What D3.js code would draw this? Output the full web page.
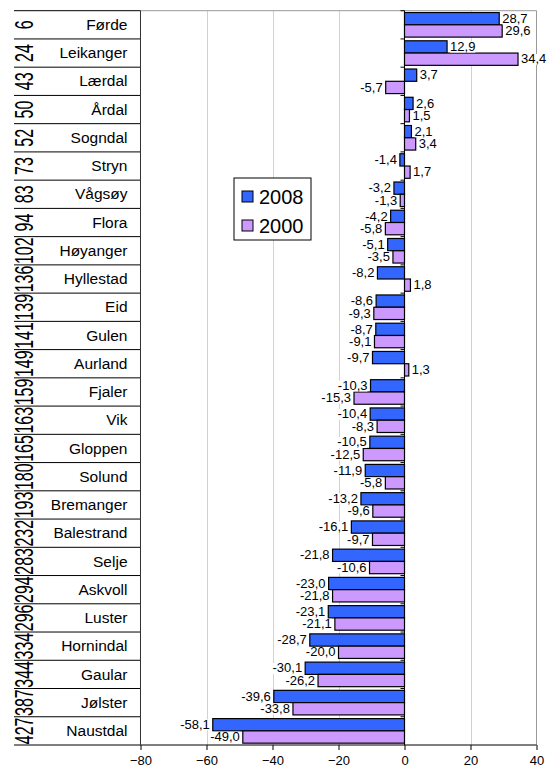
<!DOCTYPE html>
<html>
<head>
<meta charset="utf-8">
<script src="https://cdn.jsdelivr.net/npm/d3@7"></script>
<style>
  html, body { margin: 0; padding: 0; background: #fff; }
  svg { display: block; font-family: "Liberation Sans", Arial, sans-serif; }
</style>
</head>
<body>
<svg id="chart" width="552" height="771"></svg>
<script>
const municipalities = ["Førde","Leikanger","Lærdal","Årdal","Sogndal","Stryn","Vågsøy","Flora","Høyanger","Hyllestad","Eid","Gulen","Aurland","Fjaler","Vik","Gloppen","Solund","Bremanger","Balestrand","Selje","Askvoll","Luster","Hornindal","Gaular","Jølster","Naustdal"];
const ranks = [6,24,43,50,52,73,83,94,102,136,139,141,149,159,163,165,180,193,232,283,294,296,334,344,387,427];
const values2008 = [28.7,12.9,3.7,2.6,2.1,-1.4,-3.2,-4.2,-5.1,-8.2,-8.6,-8.7,-9.7,-10.3,-10.4,-10.5,-11.9,-13.2,-16.1,-21.8,-23.0,-23.1,-28.7,-30.1,-39.6,-58.1];
const values2000 = [29.6,34.4,-5.7,1.5,3.4,1.7,-1.3,-5.8,-3.5,1.8,-9.3,-9.1,1.3,-15.3,-8.3,-12.5,-5.8,-9.6,-9.7,-10.6,-21.8,-21.1,-20.0,-26.2,-33.8,-49.0];
const seriesNames = ["2008","2000"];
const seriesColors = ["#3366ff","#cc99ff"];
const xTicks = [-80,-60,-40,-20,0,20,40];

const svg = d3.select("#chart");
const x = d3.scaleLinear().domain([-80, 40]).range([140.5, 536.5]);
const y = d3.scaleBand().domain(municipalities).range([10.7, 745]).padding(0);
const ySub = d3.scaleBand().domain(seriesNames).range([0, y.bandwidth()]).paddingInner(0).paddingOuter(0.15);
const color = d3.scaleOrdinal().domain(seriesNames).range(seriesColors);

const rows = municipalities.map((m, i) => ({name: m, rank: ranks[i], vals: [values2008[i], values2000[i]]}));
const fmt = v => v.toFixed(1).replace(".", ",");

// gridlines
svg.append("g").selectAll("line").data(xTicks.filter(t => t !== -80 && t !== 0 && t !== 40)).join("line")
  .attr("x1", d => Math.round(x(d)) + 0.5).attr("x2", d => Math.round(x(d)) + 0.5)
  .attr("y1", y.range()[0]).attr("y2", y.range()[1])
  .attr("stroke", "#ccccff").attr("stroke-width", 1);

// plot border top/right (gray)
const x0r = x.range()[0], x1r = x.range()[1], y0r = y.range()[0], y1r = y.range()[1];
svg.append("path").attr("d", `M${x0r},${y0r}H${x1r}V${y1r}`).attr("fill", "none").attr("stroke", "#999").attr("stroke-width", 1);

// bars
const groups = svg.append("g").selectAll("g").data(rows).join("g")
  .attr("transform", d => `translate(0,${y(d.name)})`);
groups.selectAll("rect").data(d => d.vals.map((v, k) => ({v, s: seriesNames[k]}))).join("rect")
  .attr("x", d => x(Math.min(0, d.v)))
  .attr("width", d => Math.abs(x(d.v) - x(0)))
  .attr("y", d => ySub(d.s))
  .attr("height", ySub.bandwidth())
  .attr("fill", d => color(d.s))
  .attr("stroke", "#000").attr("stroke-width", 1.2);

// zero axis with category ticks
svg.append("line").attr("x1", x(0)).attr("x2", x(0)).attr("y1", y0r).attr("y2", y1r).attr("stroke", "#000");
svg.append("g").selectAll("line").data(municipalities).join("line")
  .attr("x1", x(0) - 4).attr("x2", x(0)).attr("y1", d => y(d)).attr("y2", d => y(d)).attr("stroke", "#000");

// data labels
const labelG = svg.append("g").attr("font-size", "13px");
rows.forEach(r => {
  r.vals.forEach((v, k) => {
    const s = seriesNames[k];
    const cy = y(r.name) + ySub(s) + ySub.bandwidth() / 2 - 0.5;
    const g = labelG.append("g");
    const t = g.append("text")
      .attr("x", v >= 0 ? x(v) + 3 : x(v) - 3)
      .attr("y", cy).attr("dy", "0.36em")
      .attr("text-anchor", v >= 0 ? "start" : "end")
      .attr("fill", "#000")
      .text(fmt(v));
    const bb = t.node().getBBox();
    g.insert("rect", "text").attr("x", bb.x).attr("y", bb.y + 2.5).attr("width", bb.width).attr("height", bb.height - 4).attr("fill", "#fff");
  });
});

// left label table
const tbl = svg.append("g");
tbl.selectAll("line.row").data(municipalities).join("line").attr("class", "row")
  .attr("x1", 14).attr("x2", x0r).attr("y1", d => y(d)).attr("y2", d => y(d)).attr("stroke", "#000");
tbl.append("line").attr("x1", 14).attr("x2", x1r).attr("y1", y1r).attr("y2", y1r).attr("stroke", "#000");
tbl.append("line").attr("x1", x0r).attr("x2", x0r).attr("y1", y0r).attr("y2", y1r).attr("stroke", "#333");
tbl.selectAll("text.name").data(rows).join("text").attr("class", "name")
  .attr("x", 127.5).attr("y", d => y(d.name) + y.bandwidth() / 2).attr("dy", "0.33em")
  .attr("text-anchor", "end").attr("font-size", "15.5px").text(d => d.name);
tbl.selectAll("text.rank").data(rows).join("text").attr("class", "rank")
  .attr("transform", d => `translate(33,${y(d.name) + y.bandwidth() / 2}) rotate(-90) scale(1,1.6)`)
  .attr("text-anchor", "middle").attr("font-size", "16px").text(d => d.rank);

// bottom axis
const xAxis = d3.axisBottom(x).tickValues(xTicks).tickSize(5).tickFormat(d3.format("d"));
const ax = svg.append("g").attr("transform", `translate(0,${y1r})`).call(xAxis);
ax.select(".domain").remove();
ax.selectAll("text").attr("font-size", "13px").attr("font-family", "Liberation Sans, Arial, sans-serif").attr("y", 15).attr("dy", "0.35em").attr("fill", "#000");
ax.selectAll("line").attr("stroke", "#000");

// legend
const lg = svg.append("g").attr("transform", "translate(234,178)");
lg.append("rect").attr("width", 77).attr("height", 62).attr("fill", "#fff").attr("stroke", "#000");
seriesNames.forEach((s, i) => {
  lg.append("rect").attr("x", 8).attr("y", 13 + i * 29).attr("width", 11).attr("height", 11)
    .attr("fill", color(s)).attr("stroke", "#000");
  lg.append("text").attr("x", 25).attr("y", 18.5 + i * 29).attr("dy", "0.36em").attr("font-size", "20px").text(s);
});
</script>
</body>
</html>
